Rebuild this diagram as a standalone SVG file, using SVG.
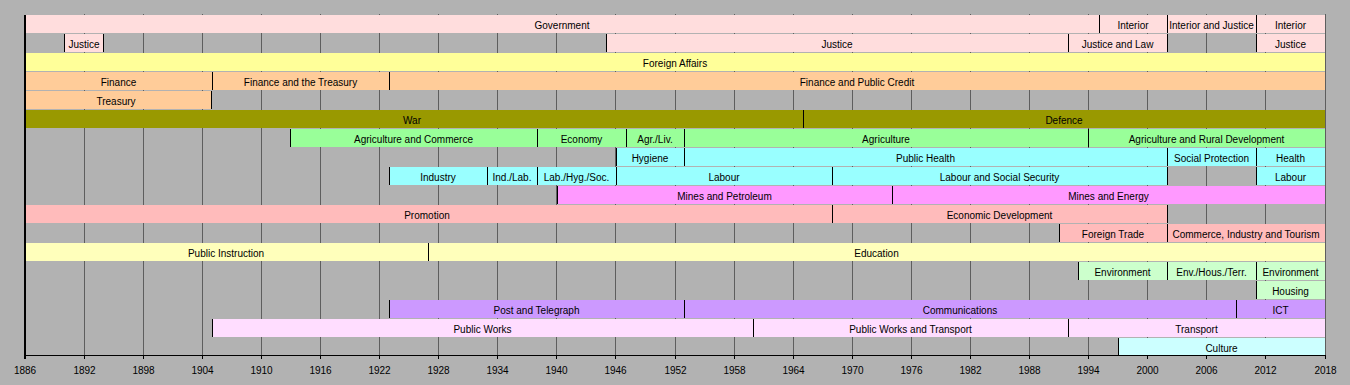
<svg xmlns="http://www.w3.org/2000/svg" width="1350" height="385" viewBox="0 0 1350 385">
<style>
text{font-family:"Liberation Sans",Arial,sans-serif;font-size:10px;fill:#000;text-anchor:middle}
.grid{stroke:#5e5e5e;stroke-width:1}
.sep{stroke:#000;stroke-width:1}
.pk{fill:#ffdddd}.ye{fill:#ffff99}.or{fill:#ffcc99}.ol{fill:#999900}.gr{fill:#99ff99}.cy{fill:#99ffff}
.mg{fill:#ff99ff}.rs{fill:#ffbbbb}.ly{fill:#ffffbb}.lg{fill:#ccffcc}.pu{fill:#cc99ff}.lp{fill:#ffddff}.lc{fill:#ccffff}
</style>
<rect width="1350" height="385" fill="#b2b2b2"/>
<g id="grid" class="grid">
<line x1="84.5" y1="14" x2="84.5" y2="355"/><line x1="143.5" y1="14" x2="143.5" y2="355"/><line x1="202.5" y1="14" x2="202.5" y2="355"/><line x1="261.5" y1="14" x2="261.5" y2="355"/><line x1="320.5" y1="14" x2="320.5" y2="355"/><line x1="379.5" y1="14" x2="379.5" y2="355"/><line x1="438.5" y1="14" x2="438.5" y2="355"/><line x1="497.5" y1="14" x2="497.5" y2="355"/><line x1="556.5" y1="14" x2="556.5" y2="355"/><line x1="615.5" y1="14" x2="615.5" y2="355"/><line x1="675.5" y1="14" x2="675.5" y2="355"/><line x1="734.5" y1="14" x2="734.5" y2="355"/><line x1="793.5" y1="14" x2="793.5" y2="355"/><line x1="852.5" y1="14" x2="852.5" y2="355"/><line x1="911.5" y1="14" x2="911.5" y2="355"/><line x1="970.5" y1="14" x2="970.5" y2="355"/><line x1="1029.5" y1="14" x2="1029.5" y2="355"/><line x1="1088.5" y1="14" x2="1088.5" y2="355"/><line x1="1147.5" y1="14" x2="1147.5" y2="355"/><line x1="1206.5" y1="14" x2="1206.5" y2="355"/><line x1="1265.5" y1="14" x2="1265.5" y2="355"/><line x1="1325.5" y1="14" x2="1325.5" y2="355"/>
</g>
<g id="row-government">
<rect class="pk" x="25" y="15" width="1074" height="18"/><text x="562" y="28.5">Government</text>
<rect class="pk" x="1099" y="15" width="68" height="18"/><text x="1133" y="28.5">Interior</text>
<rect class="pk" x="1167" y="15" width="89" height="18"/><text x="1211.5" y="28.5">Interior and Justice</text>
<rect class="pk" x="1256" y="15" width="69" height="18"/><text x="1290.5" y="28.5">Interior</text>
<line class="sep" x1="1099.5" y1="15" x2="1099.5" y2="33"/><line class="sep" x1="1167.5" y1="15" x2="1167.5" y2="33"/><line class="sep" x1="1256.5" y1="15" x2="1256.5" y2="33"/>
</g>
<g id="row-justice">
<rect class="pk" x="64" y="34" width="40" height="18"/><text x="84" y="47.5">Justice</text>
<rect class="pk" x="606" y="34" width="462" height="18"/><text x="837" y="47.5">Justice</text>
<rect class="pk" x="1068" y="34" width="99" height="18"/><text x="1117.5" y="47.5">Justice and Law</text>
<rect class="pk" x="1256" y="34" width="69" height="18"/><text x="1290.5" y="47.5">Justice</text>
<line class="sep" x1="64.5" y1="34" x2="64.5" y2="52"/><line class="sep" x1="103.5" y1="34" x2="103.5" y2="52"/><line class="sep" x1="606.5" y1="34" x2="606.5" y2="52"/><line class="sep" x1="1068.5" y1="34" x2="1068.5" y2="52"/><line class="sep" x1="1167.5" y1="34" x2="1167.5" y2="52"/><line class="sep" x1="1256.5" y1="34" x2="1256.5" y2="52"/>
</g>
<g id="row-foreign-affairs">
<rect class="ye" x="25" y="53" width="1300" height="18"/><text x="675" y="66.5">Foreign Affairs</text>
</g>
<g id="row-finance">
<rect class="or" x="25" y="72" width="187" height="18"/><text x="118.5" y="85.5">Finance</text>
<rect class="or" x="212" y="72" width="177" height="18"/><text x="300.5" y="85.5">Finance and the Treasury</text>
<rect class="or" x="389" y="72" width="936" height="18"/><text x="857" y="85.5">Finance and Public Credit</text>
<line class="sep" x1="212.5" y1="72" x2="212.5" y2="90"/><line class="sep" x1="389.5" y1="72" x2="389.5" y2="90"/>
</g>
<g id="row-treasury">
<rect class="or" x="25" y="91" width="187" height="18"/><text x="116" y="104.5">Treasury</text>
<line class="sep" x1="211.5" y1="91" x2="211.5" y2="109"/>
</g>
<g id="row-defence">
<rect class="ol" x="25" y="110" width="778" height="18"/><text x="412" y="123.5">War</text>
<rect class="ol" x="803" y="110" width="522" height="18"/><text x="1064" y="123.5">Defence</text>
<line class="sep" x1="803.5" y1="110" x2="803.5" y2="128"/>
</g>
<g id="row-agriculture">
<rect class="gr" x="290" y="129" width="247" height="18"/><text x="413.5" y="142.5">Agriculture and Commerce</text>
<rect class="gr" x="537" y="129" width="89" height="18"/><text x="581.5" y="142.5">Economy</text>
<rect class="gr" x="626" y="129" width="58" height="18"/><text x="655" y="142.5">Agr./Liv.</text>
<rect class="gr" x="684" y="129" width="404" height="18"/><text x="886" y="142.5">Agriculture</text>
<rect class="gr" x="1088" y="129" width="237" height="18"/><text x="1206.5" y="142.5">Agriculture and Rural Development</text>
<line class="sep" x1="290.5" y1="129" x2="290.5" y2="147"/><line class="sep" x1="537.5" y1="129" x2="537.5" y2="147"/><line class="sep" x1="626.5" y1="129" x2="626.5" y2="147"/><line class="sep" x1="684.5" y1="129" x2="684.5" y2="147"/><line class="sep" x1="1088.5" y1="129" x2="1088.5" y2="147"/>
</g>
<g id="row-health">
<rect class="cy" x="616" y="148" width="68" height="18"/><text x="650" y="161.5">Hygiene</text>
<rect class="cy" x="684" y="148" width="483" height="18"/><text x="925.5" y="161.5">Public Health</text>
<rect class="cy" x="1167" y="148" width="89" height="18"/><text x="1211.5" y="161.5">Social Protection</text>
<rect class="cy" x="1256" y="148" width="69" height="18"/><text x="1290.5" y="161.5">Health</text>
<line class="sep" x1="616.5" y1="148" x2="616.5" y2="166"/><line class="sep" x1="684.5" y1="148" x2="684.5" y2="166"/><line class="sep" x1="1167.5" y1="148" x2="1167.5" y2="166"/><line class="sep" x1="1256.5" y1="148" x2="1256.5" y2="166"/>
</g>
<g id="row-labour">
<rect class="cy" x="389" y="167" width="98" height="18"/><text x="438" y="180.5">Industry</text>
<rect class="cy" x="487" y="167" width="50" height="18"/><text x="512" y="180.5">Ind./Lab.</text>
<rect class="cy" x="537" y="167" width="79" height="18"/><text x="576.5" y="180.5">Lab./Hyg./Soc.</text>
<rect class="cy" x="616" y="167" width="216" height="18"/><text x="724" y="180.5">Labour</text>
<rect class="cy" x="832" y="167" width="335" height="18"/><text x="999.5" y="180.5">Labour and Social Security</text>
<rect class="cy" x="1256" y="167" width="69" height="18"/><text x="1290.5" y="180.5">Labour</text>
<line class="sep" x1="389.5" y1="167" x2="389.5" y2="185"/><line class="sep" x1="487.5" y1="167" x2="487.5" y2="185"/><line class="sep" x1="537.5" y1="167" x2="537.5" y2="185"/><line class="sep" x1="616.5" y1="167" x2="616.5" y2="185"/><line class="sep" x1="832.5" y1="167" x2="832.5" y2="185"/><line class="sep" x1="1167.5" y1="167" x2="1167.5" y2="185"/><line class="sep" x1="1256.5" y1="167" x2="1256.5" y2="185"/>
</g>
<g id="row-mines">
<rect class="mg" x="557" y="186" width="335" height="18"/><text x="724.5" y="199.5">Mines and Petroleum</text>
<rect class="mg" x="892" y="186" width="433" height="18"/><text x="1108.5" y="199.5">Mines and Energy</text>
<line class="sep" x1="557.5" y1="186" x2="557.5" y2="204"/><line class="sep" x1="892.5" y1="186" x2="892.5" y2="204"/>
</g>
<g id="row-promotion">
<rect class="rs" x="25" y="205" width="807" height="18"/><text x="427" y="218.5">Promotion</text>
<rect class="rs" x="832" y="205" width="335" height="18"/><text x="999.5" y="218.5">Economic Development</text>
<line class="sep" x1="832.5" y1="205" x2="832.5" y2="223"/><line class="sep" x1="1167.5" y1="205" x2="1167.5" y2="223"/>
</g>
<g id="row-trade">
<rect class="rs" x="1059" y="224" width="108" height="18"/><text x="1113" y="237.5">Foreign Trade</text>
<rect class="rs" x="1167" y="224" width="158" height="18"/><text x="1246" y="237.5">Commerce, Industry and Tourism</text>
<line class="sep" x1="1059.5" y1="224" x2="1059.5" y2="242"/><line class="sep" x1="1167.5" y1="224" x2="1167.5" y2="242"/>
</g>
<g id="row-education">
<rect class="ly" x="25" y="243" width="403" height="18"/><text x="226" y="256.5">Public Instruction</text>
<rect class="ly" x="428" y="243" width="897" height="18"/><text x="876.5" y="256.5">Education</text>
<line class="sep" x1="428.5" y1="243" x2="428.5" y2="261"/>
</g>
<g id="row-environment">
<rect class="lg" x="1078" y="262" width="89" height="18"/><text x="1122.5" y="275.5">Environment</text>
<rect class="lg" x="1167" y="262" width="89" height="18"/><text x="1211.5" y="275.5">Env./Hous./Terr.</text>
<rect class="lg" x="1256" y="262" width="69" height="18"/><text x="1290.5" y="275.5">Environment</text>
<line class="sep" x1="1078.5" y1="262" x2="1078.5" y2="280"/><line class="sep" x1="1167.5" y1="262" x2="1167.5" y2="280"/><line class="sep" x1="1256.5" y1="262" x2="1256.5" y2="280"/>
</g>
<g id="row-housing">
<rect class="lg" x="1256" y="281" width="69" height="18"/><text x="1290.5" y="294.5">Housing</text>
<line class="sep" x1="1256.5" y1="281" x2="1256.5" y2="299"/>
</g>
<g id="row-communications">
<rect class="pu" x="389" y="300" width="295" height="18"/><text x="536.5" y="313.5">Post and Telegraph</text>
<rect class="pu" x="684" y="300" width="552" height="18"/><text x="960" y="313.5">Communications</text>
<rect class="pu" x="1236" y="300" width="89" height="18"/><text x="1280.5" y="313.5">ICT</text>
<line class="sep" x1="389.5" y1="300" x2="389.5" y2="318"/><line class="sep" x1="684.5" y1="300" x2="684.5" y2="318"/><line class="sep" x1="1236.5" y1="300" x2="1236.5" y2="318"/>
</g>
<g id="row-public-works">
<rect class="lp" x="212" y="319" width="541" height="18"/><text x="482.5" y="332.5">Public Works</text>
<rect class="lp" x="753" y="319" width="315" height="18"/><text x="910.5" y="332.5">Public Works and Transport</text>
<rect class="lp" x="1068" y="319" width="257" height="18"/><text x="1196.5" y="332.5">Transport</text>
<line class="sep" x1="212.5" y1="319" x2="212.5" y2="337"/><line class="sep" x1="753.5" y1="319" x2="753.5" y2="337"/><line class="sep" x1="1068.5" y1="319" x2="1068.5" y2="337"/>
</g>
<g id="row-culture">
<rect class="lc" x="1118" y="338" width="207" height="17"/><text x="1221.5" y="351.5">Culture</text>
<line class="sep" x1="1118.5" y1="338" x2="1118.5" y2="355"/>
</g>
<g id="axis">
<line x1="25" y1="15" x2="25" y2="359" stroke="#000" stroke-width="2"/>
<line x1="24" y1="355.5" x2="1326" y2="355.5" stroke="#000" stroke-width="1"/>
<g stroke="#000" stroke-width="1">
<line x1="84.5" y1="355" x2="84.5" y2="359"/><line x1="143.5" y1="355" x2="143.5" y2="359"/><line x1="202.5" y1="355" x2="202.5" y2="359"/><line x1="261.5" y1="355" x2="261.5" y2="359"/><line x1="320.5" y1="355" x2="320.5" y2="359"/><line x1="379.5" y1="355" x2="379.5" y2="359"/><line x1="438.5" y1="355" x2="438.5" y2="359"/><line x1="497.5" y1="355" x2="497.5" y2="359"/><line x1="556.5" y1="355" x2="556.5" y2="359"/><line x1="615.5" y1="355" x2="615.5" y2="359"/><line x1="675.5" y1="355" x2="675.5" y2="359"/><line x1="734.5" y1="355" x2="734.5" y2="359"/><line x1="793.5" y1="355" x2="793.5" y2="359"/><line x1="852.5" y1="355" x2="852.5" y2="359"/><line x1="911.5" y1="355" x2="911.5" y2="359"/><line x1="970.5" y1="355" x2="970.5" y2="359"/><line x1="1029.5" y1="355" x2="1029.5" y2="359"/><line x1="1088.5" y1="355" x2="1088.5" y2="359"/><line x1="1147.5" y1="355" x2="1147.5" y2="359"/><line x1="1206.5" y1="355" x2="1206.5" y2="359"/><line x1="1265.5" y1="355" x2="1265.5" y2="359"/><line x1="1325.5" y1="355" x2="1325.5" y2="359"/>
</g>
<g>
<text x="25" y="374">1886</text><text x="84.5" y="374">1892</text><text x="143.5" y="374">1898</text><text x="202.5" y="374">1904</text><text x="261.5" y="374">1910</text><text x="320.5" y="374">1916</text><text x="379.5" y="374">1922</text><text x="438.5" y="374">1928</text><text x="497.5" y="374">1934</text><text x="556.5" y="374">1940</text><text x="615.5" y="374">1946</text><text x="675.5" y="374">1952</text><text x="734.5" y="374">1958</text><text x="793.5" y="374">1964</text><text x="852.5" y="374">1970</text><text x="911.5" y="374">1976</text><text x="970.5" y="374">1982</text><text x="1029.5" y="374">1988</text><text x="1088.5" y="374">1994</text><text x="1147.5" y="374">2000</text><text x="1206.5" y="374">2006</text><text x="1265.5" y="374">2012</text><text x="1325.5" y="374">2018</text>
</g>
</g>
</svg>
